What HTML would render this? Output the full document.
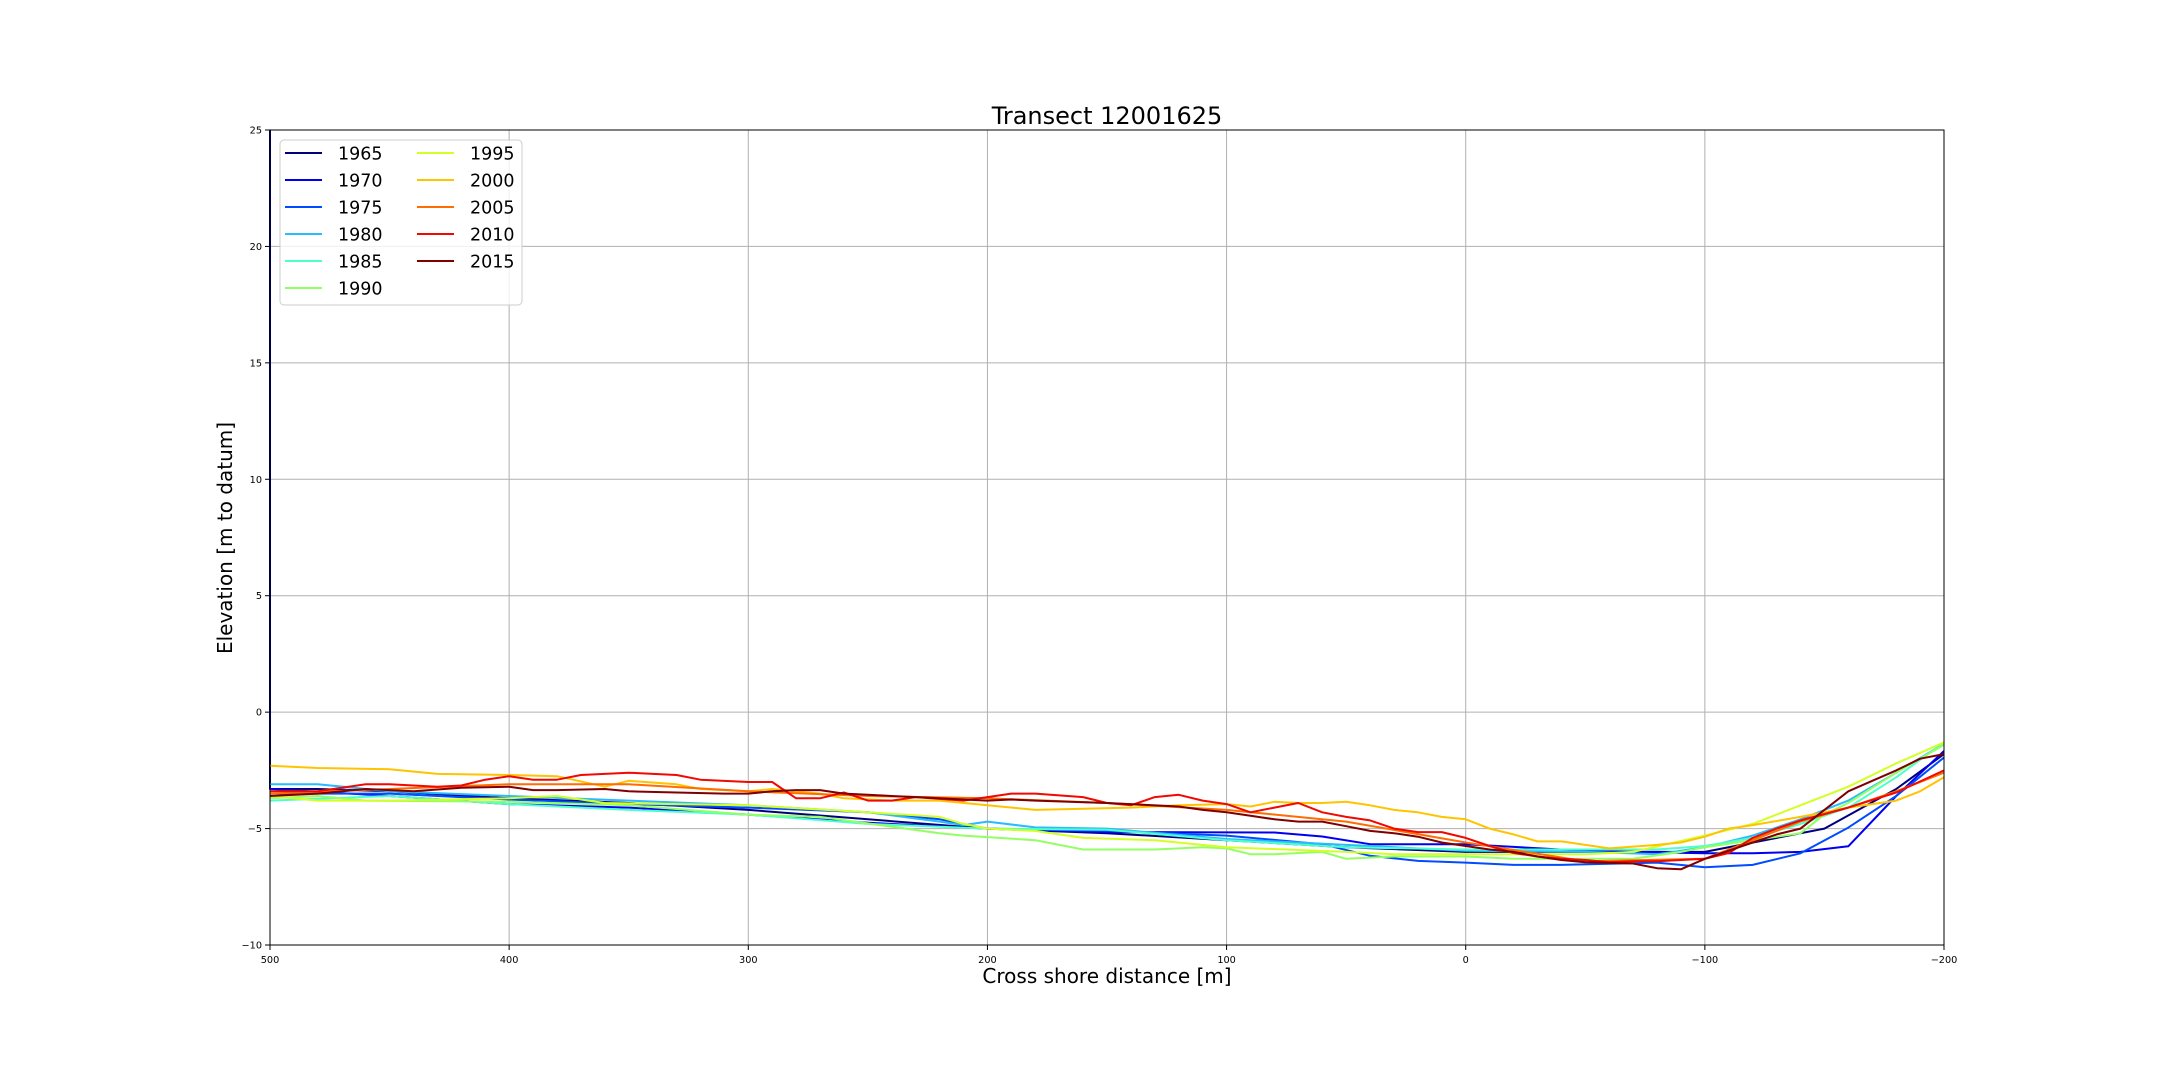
<!DOCTYPE html>
<html><head><meta charset="utf-8"><style>
html,body{margin:0;padding:0;background:#fff;}
svg{display:block;font-family:"DejaVu Sans","Liberation Sans",sans-serif;}
</style></head><body>
<svg id="chart" width="2160" height="1080" viewBox="0 0 2160 1080" xmlns="http://www.w3.org/2000/svg">
<rect width="2160" height="1080" fill="#fff"/>
<text x="1107" y="124" font-size="24" text-anchor="middle">Transect 12001625</text>
<g id="grid"></g>
<g id="series"></g>
<rect x="270" y="130" width="1674" height="815" fill="none" stroke="#000" stroke-width="1"/>
<g id="ticks"></g>
<text x="1107" y="983" font-size="20" text-anchor="middle">Cross shore distance [m]</text>
<text transform="translate(232,538) rotate(-90)" font-size="20" text-anchor="middle">Elevation [m to datum]</text>
<g id="legend"></g>
</svg>
<script>
const xTicks = [500, 400, 300, 200, 100, 0, -100, -200];
const xTickLabels = ["500", "400", "300", "200", "100", "0", "\u2212100", "\u2212200"];
const yTicks = [-10, -5, 0, 5, 10, 15, 20, 25];
const yTickLabels = ["\u221210", "\u22125", "0", "5", "10", "15", "20", "25"];
const years = ["1965","1970","1975","1980","1985","1990","1995","2000","2005","2010","2015"];
const colors = ["#00007f","#0000f0","#004cff","#29bbff","#4dffca","#93ff63","#d4ff23","#ffc400","#ff6c00","#f10800","#7f0000"];

const x1965 = [500, 500, 480, 450, 400, 350, 300, 250, 200, 150, 100, 50, 0, -50, -100, -150, -180, -200];
const y1965 = [25, -3.3, -3.3, -3.4, -3.7, -3.9, -4.2, -4.6, -5.0, -5.2, -5.5, -5.8, -6.0, -6.0, -6.0, -5.0, -3.3, -1.8];
const x1970 = [500, 450, 400, 350, 300, 250, 200, 150, 80, 60, 40, 0, -50, -100, -120, -140, -160, -180, -200];
const y1970 = [-3.3, -3.6, -3.95, -4.1, -4.4, -4.75, -5.0, -5.15, -5.17, -5.34, -5.67, -5.67, -5.96, -6.06, -6.06, -6.0, -5.76, -3.6, -1.67];
const x1975 = [500, 480, 450, 400, 350, 300, 250, 220, 200, 150, 100, 60, 40, 20, 0, -20, -40, -80, -100, -120, -140, -160, -180, -200];
const y1975 = [-3.5, -3.5, -3.5, -3.75, -3.95, -4.1, -4.3, -4.6, -5.0, -5.1, -5.3, -5.67, -6.17, -6.39, -6.46, -6.56, -6.56, -6.46, -6.66, -6.56, -6.06, -4.96, -3.6, -1.95];
const x1980 = [500, 480, 450, 400, 350, 300, 250, 220, 210, 200, 180, 150, 100, 50, 0, -50, -80, -100, -120, -140, -160, -180, -200];
const y1980 = [-3.1, -3.1, -3.4, -3.6, -3.8, -4.0, -4.3, -4.7, -4.85, -4.7, -4.95, -5.0, -5.45, -5.7, -5.95, -6.0, -6.1, -5.8, -5.3, -4.6, -3.8, -2.6, -1.35];
const x1985 = [500, 450, 400, 350, 300, 250, 200, 150, 100, 50, 0, -50, -80, -100, -120, -140, -160, -180, -200];
const y1985 = [-3.8, -3.6, -3.95, -4.2, -4.4, -4.8, -5.0, -5.05, -5.5, -5.8, -5.9, -5.9, -5.9, -5.75, -5.4, -4.8, -4.1, -2.8, -1.3];
const x1990 = [500, 480, 460, 400, 350, 300, 270, 220, 210, 180, 160, 130, 110, 100, 90, 80, 60, 50, 30, 0, -20, -50, -70, -90, -100, -120, -140, -150, -160, -180, -200];
const y1990 = [-3.7, -3.6, -3.8, -3.85, -4.0, -4.4, -4.5, -5.2, -5.3, -5.5, -5.9, -5.9, -5.8, -5.85, -6.1, -6.1, -6.0, -6.3, -6.2, -6.2, -6.3, -6.3, -6.3, -6.0, -5.8, -5.5, -5.2, -4.4, -3.9, -2.6, -1.4];
const x1995 = [500, 480, 450, 400, 380, 360, 300, 250, 220, 210, 200, 180, 160, 130, 100, 50, 30, 0, -50, -70, -100, -120, -140, -160, -180, -200];
const y1995 = [-3.6, -3.8, -3.8, -3.7, -3.6, -3.9, -4.0, -4.3, -4.5, -4.8, -5.0, -5.1, -5.4, -5.5, -5.8, -6.0, -6.1, -6.1, -6.1, -6.0, -5.3, -4.8, -4.0, -3.2, -2.2, -1.3];
const x2000 = [500, 480, 450, 430, 400, 380, 360, 350, 330, 320, 300, 290, 270, 260, 240, 220, 200, 180, 160, 140, 120, 100, 90, 80, 70, 60, 50, 40, 30, 20, 10, 0, -10, -20, -30, -40, -60, -80, -90, -100, -110, -120, -140, -160, -180, -190, -200];
const y2000 = [-2.3, -2.4, -2.45, -2.65, -2.7, -2.75, -3.2, -2.95, -3.1, -3.3, -3.4, -3.3, -3.5, -3.7, -3.8, -3.8, -4.0, -4.2, -4.15, -4.1, -4.0, -3.95, -4.05, -3.85, -3.9, -3.9, -3.85, -4.0, -4.2, -4.3, -4.5, -4.6, -5.0, -5.25, -5.55, -5.55, -5.85, -5.7, -5.6, -5.35, -5.0, -4.85, -4.5, -4.1, -3.8, -3.4, -2.8];
const x2005 = [500, 450, 400, 350, 300, 250, 200, 150, 100, 50, 0, -50, -100, -120, -140, -160, -180, -200];
const y2005 = [-3.5, -3.3, -3.1, -3.1, -3.4, -3.6, -3.7, -3.9, -4.2, -4.7, -5.6, -6.4, -6.3, -5.5, -4.7, -4.1, -3.4, -2.6];
const x2010 = [500, 480, 460, 450, 430, 420, 410, 400, 390, 380, 370, 350, 330, 320, 300, 290, 280, 270, 260, 250, 240, 230, 210, 200, 190, 180, 160, 150, 140, 130, 120, 110, 100, 90, 80, 70, 60, 50, 40, 30, 20, 10, 0, -10, -20, -30, -40, -50, -60, -70, -80, -90, -100, -110, -120, -130, -140, -160, -180, -200];
const y2010 = [-3.4, -3.4, -3.1, -3.1, -3.2, -3.15, -2.9, -2.75, -2.9, -2.9, -2.7, -2.6, -2.7, -2.9, -3.0, -3.0, -3.7, -3.7, -3.45, -3.8, -3.8, -3.65, -3.8, -3.65, -3.5, -3.5, -3.65, -3.9, -4.0, -3.65, -3.55, -3.8, -3.95, -4.3, -4.1, -3.9, -4.3, -4.5, -4.65, -5.0, -5.15, -5.15, -5.4, -5.75, -6.05, -6.2, -6.3, -6.35, -6.45, -6.4, -6.4, -6.35, -6.3, -6.05, -5.4, -5.0, -4.65, -4.1, -3.45, -2.5];
const x2015 = [500, 480, 460, 440, 420, 400, 390, 380, 360, 350, 330, 310, 300, 290, 280, 270, 260, 250, 230, 210, 200, 190, 180, 150, 120, 110, 100, 90, 80, 70, 60, 50, 40, 30, 20, 10, 0, -10, -20, -30, -40, -50, -70, -80, -90, -100, -110, -120, -130, -140, -150, -160, -170, -180, -190, -200];
const y2015 = [-3.6, -3.5, -3.3, -3.4, -3.25, -3.2, -3.35, -3.35, -3.3, -3.4, -3.45, -3.5, -3.5, -3.4, -3.35, -3.35, -3.5, -3.55, -3.65, -3.75, -3.8, -3.75, -3.8, -3.9, -4.05, -4.2, -4.3, -4.45, -4.6, -4.7, -4.7, -4.9, -5.1, -5.2, -5.35, -5.6, -5.75, -5.9, -6.0, -6.2, -6.35, -6.45, -6.5, -6.7, -6.75, -6.3, -5.95, -5.6, -5.25, -5.0, -4.2, -3.4, -2.95, -2.5, -2.0, -1.8];

const seriesX = [x1965, x1970, x1975, x1980, x1985, x1990, x1995, x2000, x2005, x2010, x2015];
const seriesY = [y1965, y1970, y1975, y1980, y1985, y1990, y1995, y2000, y2005, y2010, y2015];
const drawOrder = [0,1,2,3,4,5,6,7,8,9,10];

const PL = 270, PR = 1944, PT = 130, PB = 945;
const X0 = 500, X1 = -200, Y0 = -10, Y1 = 25;
function sx(v){ return PL + (X0 - v) / (X0 - X1) * (PR - PL); }
function sy(v){ return PB - (v - Y0) / (Y1 - Y0) * (PB - PT); }
const NS = "http://www.w3.org/2000/svg";
function mk(tag, attrs, parent){
  const e = document.createElementNS(NS, tag);
  for (const k in attrs) e.setAttribute(k, attrs[k]);
  parent.appendChild(e);
  return e;
}
const grid = document.getElementById('grid');
const ticks = document.getElementById('ticks');
xTicks.forEach((t, i) => {
  const gx = mk('line', {x1: sx(t), x2: sx(t), y1: PT, y2: PB, stroke: '#b0b0b0', 'stroke-width': 1}, grid);
  
  
  const tk = mk('line', {x1: sx(t), x2: sx(t), y1: PB, y2: PB + 5, stroke: '#000'}, ticks);
  
  
  const lb = mk('text', {x: sx(t), y: PB + 18, 'font-size': 9.7, 'text-anchor': 'middle'}, ticks);
  lb.textContent = xTickLabels[i];
  
  
});
yTicks.forEach((t, i) => {
  const gy = mk('line', {x1: PL, x2: PR, y1: sy(t), y2: sy(t), stroke: '#b0b0b0', 'stroke-width': 1}, grid);
  
  
  const tk = mk('line', {x1: PL - 5, x2: PL, y1: sy(t), y2: sy(t), stroke: '#000'}, ticks);
  
  
  const lb = mk('text', {x: PL - 8, y: sy(t) + 3.5, 'font-size': 9.7, 'text-anchor': 'end'}, ticks);
  lb.textContent = yTickLabels[i];
  
  
});
const sg = document.getElementById('series');
drawOrder.forEach(i => {
  const xs = seriesX[i], ys = seriesY[i];
  const pts = xs.map((v, j) => sx(v).toFixed(1) + ',' + sy(ys[j]).toFixed(1)).join(' ');
  const pl = mk('polyline', {points: pts, fill: 'none', stroke: colors[i], 'stroke-width': 2, 'stroke-linejoin': 'round'}, sg);
  
  
});
const lg = document.getElementById('legend');
const box = mk('rect', {x: 280, y: 140, width: 242, height: 165, rx: 4, fill: '#fff', 'fill-opacity': 0.8, stroke: '#cccccc', 'stroke-width': 1}, lg);


years.forEach((yr, i) => {
  const col = i < 6 ? 0 : 1;
  const row = i < 6 ? i : i - 6;
  const lx = col === 0 ? 285 : 417;
  const ly = 153 + row * 27;
  const g = mk('g', {}, lg);
  
  
  mk('line', {x1: lx, x2: lx + 37, y1: ly, y2: ly, stroke: colors[i], 'stroke-width': 2}, g);
  const t = mk('text', {x: lx + 53, y: ly + 6.5, 'font-size': 17.5}, g);
  t.textContent = yr;
});
</script>
</body></html>
